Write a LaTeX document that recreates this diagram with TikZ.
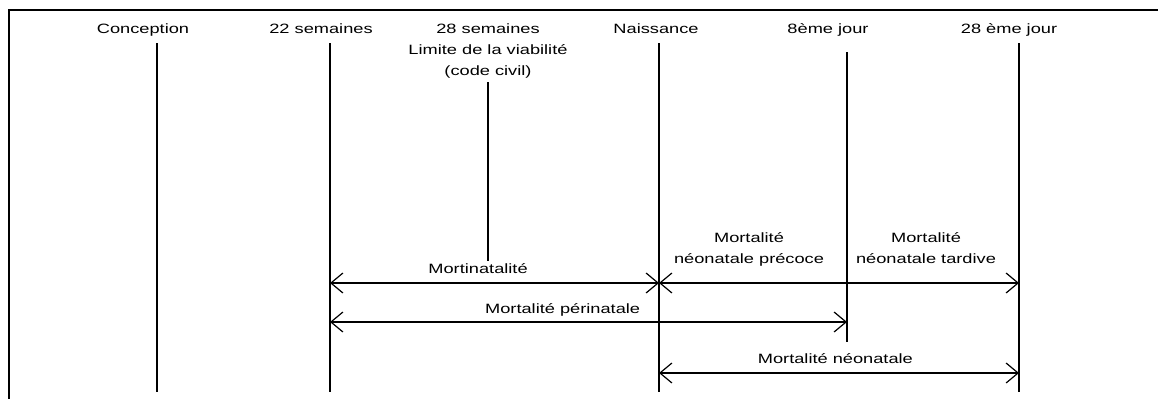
\documentclass[tikz,border=0pt]{standalone}
\usepackage{fontspec}
\setmainfont[FakeStretch=1.35]{Liberation Sans}
\usetikzlibrary{arrows.meta}

\begin{document}
\begin{tikzpicture}[x=1pt,y=-1pt,>={Straight Barb[length=12pt,width=20pt]},
  date node/.style={anchor=base,inner sep=0pt,align=center,
    font=\fontsize{13.5}{21}\selectfont},
  span node/.style={date node},
  tick/.style={line width=1.6pt},
  span/.style={<->,line width=1.2pt}]

  \useasboundingbox (0,0) rectangle (1158,399);
  \draw[line width=2pt] (1158,10) -- (9,10) -- (9,399);

  % dates en haut
  \node[date node] (conc) at (143,33) {Conception};
  \node[date node] (s22) at (321,33) {22 semaines};
  \node[date node] (s28) at (488,75) {28 semaines\\Limite de la viabilité\\(code civil)};
  \node[date node] (nais) at (656,33) {Naissance};
  \node[date node] (j8) at (828,33) {8ème jour};
  \node[date node] (j28) at (1009,33) {28 ème jour};

  % traits verticaux
  \coordinate (conc t) at (157,43);  \coordinate (conc b) at (157,392);
  \coordinate (s22 t) at (330,43);   \coordinate (s22 b) at (330,392);
  \coordinate (s28 t) at (488,82);   \coordinate (s28 b) at (488,261);
  \coordinate (nais t) at (659,43);  \coordinate (nais b) at (659,392);
  \coordinate (j8 t) at (847,52);    \coordinate (j8 b) at (847,342);
  \coordinate (j28 t) at (1019,43);  \coordinate (j28 b) at (1019,392);

  \path[tick]
    (conc t) edge (conc b)
    (s22 t) edge (s22 b)
    (s28 t) edge (s28 b)
    (nais t) edge (nais b)
    (j8 t) edge (j8 b)
    (j28 t) edge (j28 b);

  % periodes
  \coordinate (s22 a) at (330,283);  \coordinate (nais a) at (659,283);
  \coordinate (j28 a) at (1019,283);
  \coordinate (s22 p) at (330,322);  \coordinate (j8 p) at (847,322);
  \coordinate (nais n) at (659,373); \coordinate (j28 n) at (1019,373);

  \path[span,every node/.style={span node,yshift=10pt}]
    (s22 a) edge node[pos=0.45] {Mortinatalité} (nais a)
    (nais a) edge (j28 a)
    (s22 p) edge node[pos=0.45,yshift=-1pt] {Mortalité périnatale} (j8 p)
    (nais n) edge node[pos=0.49] {Mortalité néonatale} (j28 n);

  \node[span node] (prec) at (749,263) {Mortalité\\néonatale précoce};
  \node[span node] (tard) at (926,263) {Mortalité\\néonatale tardive};
\end{tikzpicture}
\end{document}
